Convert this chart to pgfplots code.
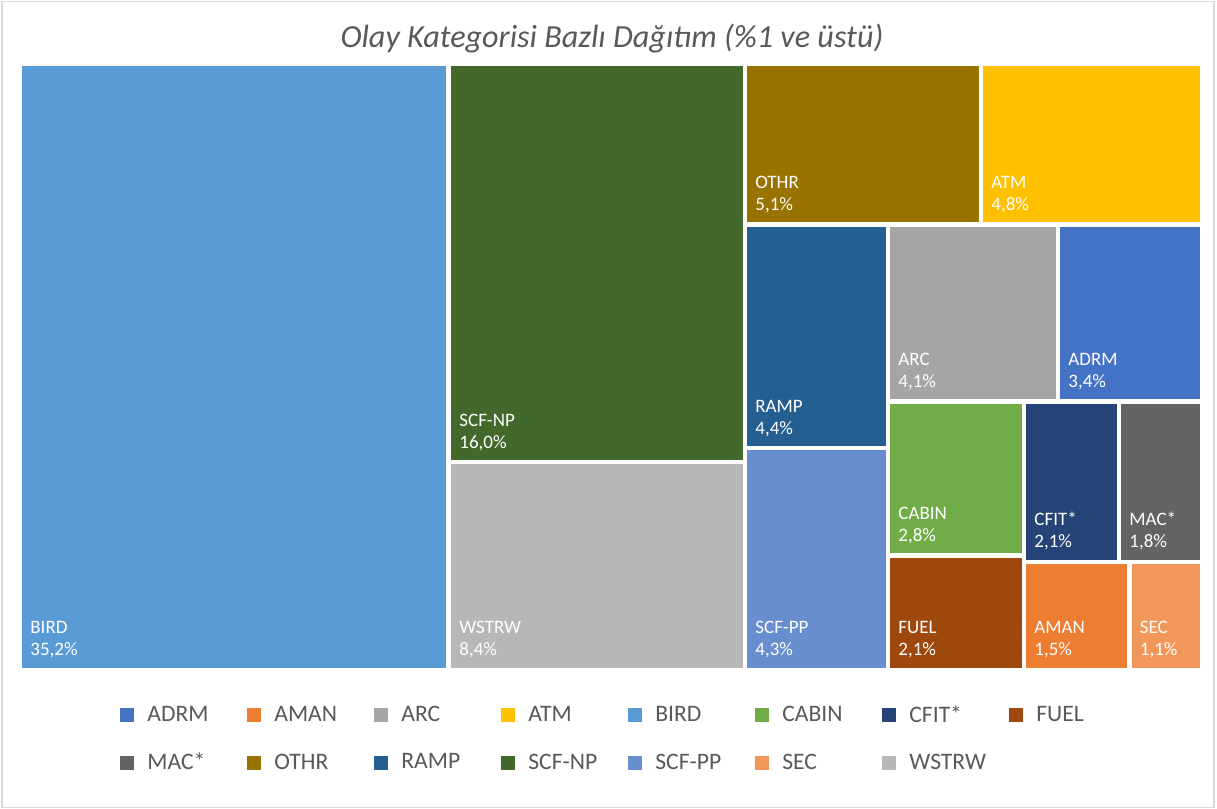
\documentclass[border=0pt]{standalone}
\usepackage{pgfplots}
\pgfplotsset{compat=1.18}
\usepackage{fontspec}
\setmainfont{Carlito}
\definecolor{cADRM}{HTML}{4472C4}
\definecolor{cAMAN}{HTML}{ED7D31}
\definecolor{cARC}{HTML}{A5A5A5}
\definecolor{cATM}{HTML}{FFC000}
\definecolor{cBIRD}{HTML}{5B9BD5}
\definecolor{cCABIN}{HTML}{70AD47}
\definecolor{cCFIT}{HTML}{264478}
\definecolor{cFUEL}{HTML}{9E480E}
\definecolor{cMAC}{HTML}{636363}
\definecolor{cOTHR}{HTML}{997300}
\definecolor{cRAMP}{HTML}{255E91}
\definecolor{cSCFNP}{HTML}{43682B}
\definecolor{cSCFPP}{HTML}{698ED0}
\definecolor{cSEC}{HTML}{F1975A}
\definecolor{cWSTRW}{HTML}{B7B7B7}
\definecolor{titlegray}{HTML}{595959}
\definecolor{framegray}{HTML}{D9D9D9}
% tile: x0 y0 x1 y1 colour name percent
\newcommand{\tile}[7]{%
  \addplot[fill=#5, draw=none] coordinates {(#1,#2) (#3,#2) (#3,#4) (#1,#4)} -- cycle;
  \addlegendentry{#6}
  \node[anchor=base west, text=white, inner sep=0pt, font=\fontsize{9.5pt}{11pt}\selectfont] at (axis cs:#1+8,#4-34) {#6};
  \node[anchor=base west, text=white, inner sep=0pt, font=\fontsize{9.5pt}{11pt}\selectfont] at (axis cs:#1+8,#4-12) {#7};
}
\begin{document}
\begin{tikzpicture}
\begin{axis}[
  width=608.5pt, height=404.5pt, scale only axis,
  xmin=0, xmax=1217, ymin=0, ymax=809, y dir=reverse,
  hide axis, clip=false,
  legend image code/.code={\fill[#1] (0pt,-3.5pt) rectangle (7pt,3.5pt);},
  legend columns=8,
  legend style={
    draw=none, fill=none, inner sep=0pt,
    at={(axis description cs:0.0986,0.0865)}, anchor=west,
    font=\fontsize{11.8pt}{14pt}\selectfont, text=titlegray,
    nodes={inner sep=0pt, text width=50pt, align=left},
    row sep=14pt,
    /tikz/every odd column/.append style={column sep=6.5pt},
  },
]
\path[fill=white] (axis cs:0,0) rectangle (axis cs:1217,809);
\draw[framegray, line width=0.6pt] (axis cs:2,1.5) rectangle (axis cs:1214,807.5);
\node[font=\fontsize{16.1pt}{19pt}\selectfont\itshape, text=titlegray] at (axis cs:612,38) {Olay Kategorisi Bazlı Dağıtım (\%1 ve üstü)};
\tile{1060}{227}{1199.5}{399}{cADRM}{ADRM}{3,4\%}
\tile{1026}{564}{1127}{667.5}{cAMAN}{AMAN}{1,5\%}
\tile{890}{227}{1056}{399}{cARC}{ARC}{4,1\%}
\tile{983}{66}{1199.5}{222}{cATM}{ATM}{4,8\%}
\tile{22}{66}{446}{667.5}{cBIRD}{BIRD}{35,2\%}
\tile{890}{404}{1022}{553}{cCABIN}{CABIN}{2,8\%}
\tile{1026}{404}{1116.5}{559.5}{cCFIT}{CFIT*}{2,1\%}
\tile{890}{557.5}{1022}{667.5}{cFUEL}{FUEL}{2,1\%}
\tile{1121}{404}{1199.5}{559.5}{cMAC}{MAC*}{1,8\%}
\tile{747}{66}{979}{222}{cOTHR}{OTHR}{5,1\%}
\tile{747}{227}{886}{446}{cRAMP}{RAMP}{4,4\%}
\tile{451}{66}{742.5}{460}{cSCFNP}{SCF-NP}{16,0\%}
\tile{747}{450}{886}{667.5}{cSCFPP}{SCF-PP}{4,3\%}
\tile{1131.5}{564}{1199.5}{667.5}{cSEC}{SEC}{1,1\%}
\tile{451}{463.5}{742.5}{667.5}{cWSTRW}{WSTRW}{8,4\%}
\end{axis}
\end{tikzpicture}
\end{document}
